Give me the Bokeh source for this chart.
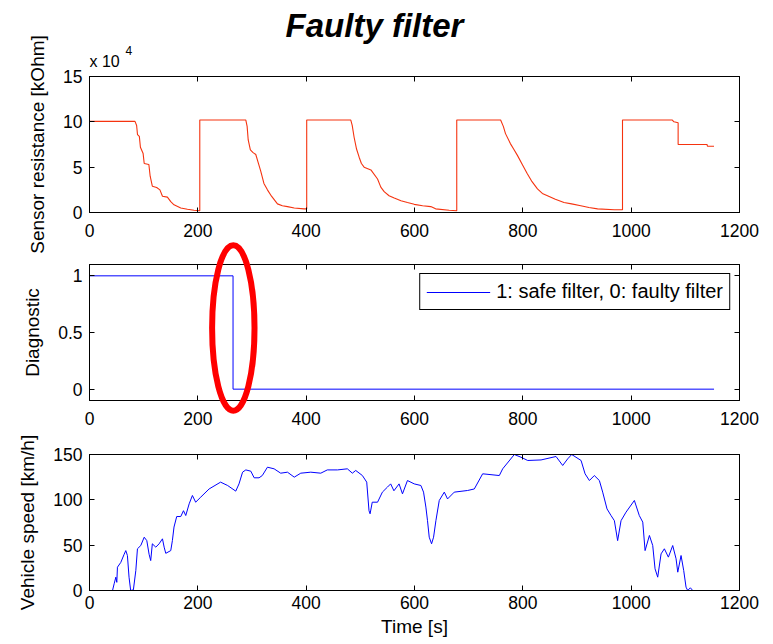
import numpy as np
from bokeh.plotting import figure
from bokeh.models import (Range1d, FixedTicker, LinearAxis, Legend, LegendItem,
                          CustomJSTickFormatter)
from bokeh.layouts import column
from bokeh.embed import file_html
from bokeh.resources import INLINE
from bokeh.core.properties import value

# ---------------- data ----------------
# Sensor resistance, in units of 10^4 kOhm
res_t = [0, 84, 87, 88.6, 92, 94, 99, 101, 109.6, 112, 116, 124, 130, 134.7, 143.8, 150, 156,
         168.5, 180.8, 193, 203.6,
         203.6, 288.6, 291, 293, 297, 302, 307, 312, 316, 322, 328.5, 336, 347, 356, 365.5, 378,
         396, 401,
         401, 482.4, 485, 488.5, 493, 497.8, 502, 507, 519.5, 531.8, 537.8, 544, 553, 562.6, 575,
         587, 599.5, 615, 630, 639, 664, 678,
         678, 759, 764, 768, 777, 783, 790, 799, 808, 817, 827, 836, 845.5, 860, 876, 890, 907,
         922, 938, 969, 984,
         984, 1076, 1079, 1086.7, 1086.7, 1140, 1141, 1153]
res_v = [10.05, 10.05, 9.6, 8.6, 8.4, 7.2, 6.5, 5.4, 5.3, 4.0, 2.9, 2.75, 2.5, 1.8, 1.7, 1.2, 0.85,
         0.5, 0.35, 0.25, 0.2,
         10.2, 10.2, 9.5, 8.0, 6.9, 6.6, 6.4, 5.4, 4.6, 3.2, 2.5, 1.8, 0.95, 0.75, 0.65, 0.5,
         0.4, 0.4,
         10.2, 10.2, 9.6, 8.3, 7.0, 6.1, 5.4, 5.0, 4.7, 3.7, 2.8, 2.3, 1.85, 1.6, 1.3,
         1.1, 0.9, 0.75, 0.65, 0.4, 0.25, 0.2,
         10.2, 10.2, 9.5, 8.7, 7.6, 7.0, 6.3, 5.3, 4.3, 3.4, 2.6, 2.1, 1.85, 1.45, 1.1, 0.95, 0.75,
         0.55, 0.4, 0.3, 0.3,
         10.2, 10.2, 10.0, 9.9, 7.5, 7.5, 7.3, 7.3]

# Diagnostic (1: safe filter, 0: faulty filter)
diag_t = [0, 265, 1153]
diag_v = [1, 0, 0]

# Vehicle speed [km/h]
speed_t = [0, 42.5, 45.5, 48.6, 50.4, 51.6, 57.8, 64, 67, 70, 73, 76, 81, 85.5, 88.5, 94.7, 101,
           105.8, 110, 113, 116, 122.4, 128.5, 134.7, 137.8, 140.8, 150, 153, 156, 161, 168.5,
           173.5, 177.7, 184, 190, 196, 205.4, 220.8, 242, 255, 270, 276, 282.6, 288.6, 297.8,
           304, 313, 319, 328.5, 340.8, 353, 365.5, 378, 390, 408.5, 427, 439, 457.8, 476,
           485.3, 491.5, 503.8, 511.8, 516, 518, 522, 531.8, 540.7, 550, 556, 562, 571.5, 577.8,
           587, 599.5, 611.8, 616.7, 621, 624, 627.2, 631.5, 635.2, 639.5, 645.7, 655, 661,
           673.4, 698, 710.4, 725.8, 756.6, 762.8, 784.3, 796.6, 809, 833.6, 861.3, 873.6,
           882.8, 890.2, 907.5, 914.9, 922.9, 932, 941.3, 947.4, 955.4, 962.8, 969, 975, 981.3,
           990.5, 1005.9, 1015, 1021.4, 1025.7, 1033.7, 1039.8, 1044.1, 1049, 1055.2, 1061.3,
           1068.7, 1076.7, 1082.9, 1086, 1092.1, 1097, 1101.3, 1104.4, 1109.3, 1113.6, 1153.6]
speed_v = [0, 0, 7.4, 14.7, 9, 25.7, 31, 40, 44, 38.6, 14.7, 0, 0.7, 22, 46, 49.6, 58.8,
           55, 40, 33, 51.5, 47.8, 51.5, 57, 47.8, 41, 44, 55, 70, 81.6, 81.6,
           88, 82.7, 95.6, 104.8, 97.4, 103, 112, 119.5, 115.8, 109.6, 117.6, 130.5, 133, 131.6,
           124.3, 124.3, 126.8, 136, 134.2, 129.4, 130.5, 125, 129.4, 130.5, 129.4, 133, 133, 134.2,
           129.4, 132.4, 126.8, 119.5, 88, 84.6, 97.4, 97.4, 108.5, 114, 117.6, 110, 117.6, 106.6,
           121.3, 117.6, 115.8, 108.5, 92, 77, 58.8, 51.5, 58.8, 77, 99.3, 108.5, 101,
           108.5, 110.3, 112, 128.7, 126.8, 134.2, 150, 147, 143.4, 144, 147.8, 137.9,
           145.2, 150, 143.4, 128.7, 121.3, 126.8, 121.3, 108.5, 90, 82.7, 77, 55, 77,
           86.4, 99.3, 82.7, 75.4, 44, 60.7, 49.6, 23.9, 14.7, 40.4, 46,
           36.8, 49.6, 35, 20.2, 38.6, 22, 3.7, 0, 3, 0, 0]

x_ticks = [0, 200, 400, 600, 800, 1000, 1200]
res_ticks = [0, 5, 10, 15]
diag_ticks = [0, 0.5, 1]
speed_ticks = [0, 50, 100, 150]

FONT = "Liberation Sans"
TICK_FS = "17.5px"
LABEL_FS = "19px"

# layout geometry (pixels)
B_LEFT, B_RIGHT = 89, 30
FRAME_W, FRAME_H = 650, 136
X0, X1 = 0, 1200
P1_TOP, P1_BOT = 76, 42
P2_TOP, P2_BOT = 10, 30
P3_TOP, P3_BOT = 24, 54

blank = CustomJSTickFormatter(code="return ''")


def style_axis(ax, ticks, show_labels=True):
    ax.ticker = FixedTicker(ticks=ticks)
    ax.axis_line_color = "black"
    ax.axis_line_width = 1
    ax.major_tick_line_color = "black"
    ax.major_tick_in = 5
    ax.major_tick_out = 0
    ax.minor_tick_line_color = None
    ax.major_label_text_font = FONT
    ax.major_label_text_color = "black"
    ax.major_label_text_font_size = TICK_FS
    ax.axis_label_text_font = FONT
    ax.axis_label_text_font_style = "normal"
    ax.axis_label_text_font_size = LABEL_FS
    ax.axis_label_text_color = "black"
    if not show_labels:
        ax.formatter = blank
        ax.major_label_standoff = 0
        ax.major_label_text_font_size = "1px"


def make_fig(y0, y1, yticks, ylabel, top, bottom, xstandoff, xlabel=None):
    p = figure(frame_width=FRAME_W, frame_height=FRAME_H,
               min_border_left=B_LEFT, min_border_right=B_RIGHT,
               min_border_top=top, min_border_bottom=bottom,
               x_range=Range1d(X0, X1), y_range=Range1d(y0, y1),
               output_backend="svg", toolbar_location=None, tools="")
    p.xgrid.visible = False
    p.ygrid.visible = False
    p.outline_line_color = "black"
    p.outline_line_alpha = 1
    p.outline_line_width = 1
    p.background_fill_color = "white"
    p.border_fill_color = "white"
    style_axis(p.xaxis[0], x_ticks)
    p.xaxis[0].major_label_standoff = xstandoff
    style_axis(p.yaxis[0], yticks)
    p.yaxis[0].major_label_standoff = 7
    p.yaxis[0].axis_label = ylabel
    p.yaxis[0].axis_label_standoff = 12
    if xlabel:
        p.xaxis[0].axis_label = xlabel
        p.xaxis[0].axis_label_standoff = 4
    top_ax = LinearAxis()
    style_axis(top_ax, x_ticks, show_labels=False)
    p.add_layout(top_ax, "above")
    right_ax = LinearAxis()
    style_axis(right_ax, yticks, show_labels=False)
    p.add_layout(right_ax, "right")
    return p


# ---------------- panel 1 ----------------
p1 = make_fig(0, 15, res_ticks, "Sensor resistance [kOhm]", P1_TOP, P1_BOT, 11)
p1.line(res_t, res_v, line_color="#f5330f", line_width=1.1)

# ---------------- panel 2 ----------------
D0, D1 = -0.1, 1.1
p2 = make_fig(D0, D1, diag_ticks, "Diagnostic", P2_TOP, P2_BOT, 11)
r2 = p2.step(diag_t, diag_v, mode="after", line_color="blue", line_width=1)
legend = Legend(items=[LegendItem(label="1: safe filter, 0: faulty filter", renderers=[r2])],
                location="top_right")
legend.margin = 9
legend.padding = 6
legend.spacing = 0
legend.glyph_width = 64
legend.glyph_height = 20
legend.label_standoff = 6
legend.border_line_color = "black"
legend.border_line_width = 1
legend.border_line_alpha = 1
legend.background_fill_color = "white"
legend.background_fill_alpha = 1
legend.label_text_font = FONT
legend.label_text_font_size = "20px"
legend.label_text_color = "black"
p2.add_layout(legend)

# ---------------- panel 3 ----------------
p3 = make_fig(0, 150, speed_ticks, "Vehicle speed [km/h]", P3_TOP, P3_BOT, 5, xlabel="Time [s]")
p3.line(speed_t, speed_v, line_color="blue", line_width=1)

# ---------------- transparent overlay (title, exponent, highlight ellipse) ----------------
# Shares panel 2's x/y scales; its frame spans the page from the top down to the
# bottom of panel 2, so the ellipse can spill over the axes box as in the original.
P2_FRAME_TOP = P1_TOP + FRAME_H + P1_BOT + P2_TOP        # page y of panel-2 frame top
OV_H = P2_FRAME_TOP + FRAME_H + P2_BOT                   # overlay covers page y 0..OV_H
sy = FRAME_H / (D1 - D0)
sx = FRAME_W / (X1 - X0)
ov_y = Range1d(D1 - (OV_H - P2_FRAME_TOP) / sy, D1 + P2_FRAME_TOP / sy)


def page_to_data(px, py):
    return X0 + (px - B_LEFT) / sx, D1 + (P2_FRAME_TOP - py) / sy


ov = figure(frame_width=FRAME_W, frame_height=OV_H,
            min_border_left=B_LEFT, min_border_right=B_RIGHT,
            min_border_top=0, min_border_bottom=0,
            x_range=Range1d(X0, X1), y_range=ov_y,
            x_axis_location=None, y_axis_location=None,
            output_backend="svg", toolbar_location=None, tools="",
            outline_line_color=None, background_fill_color=None, border_fill_color=None,
            styles={"position": "absolute", "left": "0px", "top": "0px", "z-index": "5",
                    "pointer-events": "none"})
ov.xgrid.visible = False
ov.ygrid.visible = False

ell_cx, ell_cy, ell_w, ell_h = 265.5, 0.54, 78.3, 1.461
ov.ellipse(x=ell_cx, y=ell_cy, width=ell_w, height=ell_h, fill_color=None,
           line_color="red", line_width=6)

tx, ty = page_to_data(374, 25)
ov.text(x=[tx], y=[ty], text=["Faulty filter"], text_align="center",
        text_baseline="alphabetic", text_font=value(FONT), text_font_size="33px",
        text_font_style="bold italic", text_color="black")
ex_x, ex_y = page_to_data(89, 61)
ov.text(x=[ex_x], y=[ex_y], text=["x 10"], text_align="left", text_baseline="alphabetic",
        text_font=value(FONT), text_font_size="16px", text_color="black")
sup_x, sup_y = page_to_data(125, 50)
ov.text(x=[sup_x], y=[sup_y], text=["4"], text_align="left", text_baseline="alphabetic",
        text_font=value(FONT), text_font_size="12px", text_color="black")

layout = column(p1, p2, p3, ov, spacing=0)
open("out.html", "w").write(file_html(layout, INLINE))
